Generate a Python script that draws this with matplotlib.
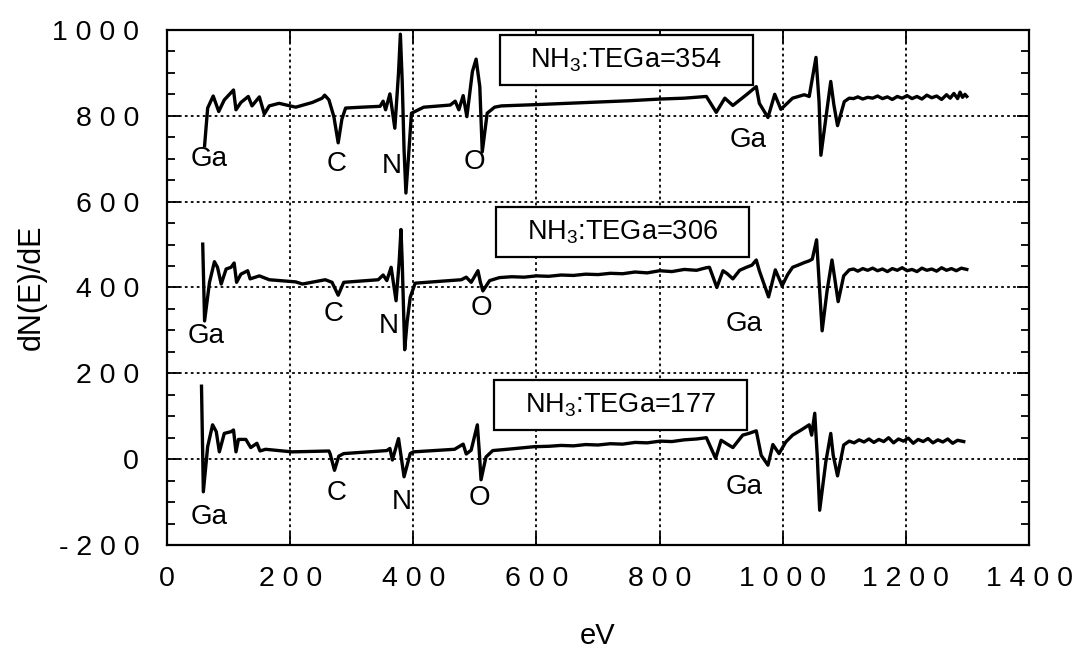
import matplotlib
matplotlib.use("Agg")
import matplotlib.pyplot as plt
from matplotlib.patches import Rectangle
from matplotlib.ticker import MultipleLocator, FuncFormatter

# AES spectra dN(E)/dE (eV, counts)
ev_354 = [61, 66, 75, 84, 93, 108, 112, 120, 132, 138, 150, 158, 166, 182, 209, 236,
          252, 256, 263, 271, 278, 284, 290, 316, 346, 351, 355, 362, 370, 376, 379,
          382, 385, 388, 392, 397, 417, 460, 468, 474, 481, 487, 496, 502, 508, 512,
          520, 532, 543, 600, 650, 700, 750, 801, 840, 876, 892, 906, 919, 941, 957,
          962, 976, 987, 997, 1016, 1035, 1043, 1054, 1059, 1062, 1070, 1078, 1083,
          1089, 1100, 1108, 1115, 1122, 1130, 1138, 1146, 1154, 1162, 1170, 1178,
          1186, 1194, 1202, 1210, 1218, 1226, 1234, 1242, 1250, 1258, 1266, 1272,
          1278, 1284, 1288, 1292, 1296, 1299]
dn_354 = [730, 818, 846, 810, 837, 860, 814, 831, 845, 823, 844, 804, 823, 829, 820, 831,
          841, 848, 837, 798, 737, 792, 818, 820, 822, 834, 814, 851, 771, 900, 990,
          880, 720, 620, 700, 806, 820, 825, 834, 814, 847, 798, 903, 932, 868, 716,
          806, 820, 823, 826, 829, 832, 835, 839, 841, 845, 808, 841, 824, 849, 868,
          829, 796, 850, 815, 841, 849, 845, 936, 833, 708, 794, 880, 826,
          777, 833, 841, 840, 844, 839, 843, 841, 846, 840, 844, 838,
          845, 841, 847, 840, 845, 839, 848, 842, 846, 838, 849, 841,
          852, 840, 855, 843, 850, 845]

ev_306 = [58, 61, 69, 77, 82, 88, 96, 104, 109, 113, 120, 131, 135, 150, 166, 209, 220,
          257, 268, 278, 287, 343, 351, 357, 364, 372, 377, 380, 382, 386, 390, 395,
          403, 440, 478, 486, 494, 505, 509, 513, 524, 540, 560, 580, 600, 620, 640,
          660, 680, 700, 720, 740, 760, 780, 800, 820, 840, 860, 876, 881, 893, 903,
          910, 919, 930, 941, 950, 957, 962, 977, 988, 999, 1008, 1016, 1025, 1035,
          1043, 1048, 1055, 1059, 1064, 1072, 1080, 1085, 1090, 1099, 1108, 1115,
          1122, 1130, 1138, 1146, 1154, 1162, 1170, 1178, 1186, 1194, 1202, 1210,
          1218, 1226, 1234, 1242, 1250, 1258, 1266, 1274, 1282, 1290, 1299]
dn_306 = [501, 322, 412, 460, 447, 408, 443, 447, 457, 412, 431, 439, 420, 427, 418, 413, 408,
          418, 412, 382, 412, 418, 429, 416, 447, 369, 459, 535, 459, 255, 320, 377,
          410, 414, 418, 424, 412, 439, 412, 392, 416, 423, 425, 424, 427, 426, 429,
          428, 431, 430, 433, 432, 436, 434, 439, 437, 442, 440, 446, 447, 400, 439,
          432, 420, 440, 447, 452, 464, 439, 378, 441, 404, 430, 447, 452, 458,
          462, 466, 511, 416, 299, 392, 464, 416, 367, 427, 441, 443,
          438, 444, 440, 445, 439, 443, 437, 444, 440, 446, 439, 442,
          437, 445, 440, 443, 438, 446, 440, 444, 439, 445, 442]

ev_177 = [56, 59, 66, 74, 80, 85, 93, 104, 108, 112, 116, 128, 136, 146, 151, 160, 203,
          263, 265, 272, 279, 287, 357, 362, 366, 376, 385, 395, 400, 467, 481, 486,
          494, 504, 507, 510, 518, 529, 560, 596, 620, 640, 660, 680, 700, 720, 740,
          760, 780, 801, 820, 840, 860, 876, 891, 900, 910, 919, 935, 945, 957, 965,
          976, 984, 994, 1005, 1016, 1030, 1043, 1047, 1052, 1056, 1060, 1070, 1078,
          1082, 1089, 1099, 1108, 1116, 1124, 1132, 1140, 1148, 1156, 1164, 1172,
          1180, 1188, 1196, 1204, 1212, 1220, 1228, 1236, 1244, 1252, 1260, 1268,
          1276, 1284, 1294]
dn_177 = [170, -76, 29, 80, 64, 17, 60, 64, 68, 17, 46, 46, 27, 37, 19, 23, 17,
          19, 12, -26, 7, 13, 20, 25, -2, 48, -41, 13, 17, 23, 35, 12,
          21, 80, 21, -48, 5, 20, 24, 29, 30, 32, 31, 34, 33, 36, 35,
          39, 38, 42, 41, 45, 47, 50, 2, 44, 35, 27, 56, 60, 66, 9,
          -14, 34, 13, 40, 56, 68, 80, 56, 107, 9, -119, -6, 60,
          9, -39, 33, 42, 38, 45, 40, 47, 39, 46, 41, 50,
          38, 47, 42, 49, 37, 46, 41, 48, 38, 45, 40, 47,
          37, 44, 41]

series = [(ev_354, dn_354), (ev_306, dn_306), (ev_177, dn_177)]

ratios = ["354", "306", "177"]
# box lower-left corners (eV, counts) and size
box_xy = [(540, 871), (534, 471), (531, 67)]
box_w, box_h = 411, 117

# element labels: (text, eV, counts)
peak_labels = [
    ("Ga", 69, 700), ("C", 276, 688), ("N", 365, 684), ("O", 499, 693), ("Ga", 943, 743),
    ("Ga", 63, 287), ("C", 271, 338), ("N", 360, 310), ("O", 510, 352), ("Ga", 938, 315),
    ("Ga", 69, -135), ("C", 276, -78), ("N", 381, -99), ("O", 507, -90), ("Ga", 938, -64),
]

plt.rcParams["font.family"] = ["Liberation Sans", "DejaVu Sans"]
plt.rcParams["mathtext.default"] = "regular"

fig = plt.figure(figsize=(10.72, 6.52), dpi=100)
ax = fig.add_axes([0.1558, 0.1641, 0.8041, 0.790])

for ev, dn in series:
    ax.plot(ev, dn, color="black", lw=2.4, solid_joinstyle="round")

for r, (bx, by) in zip(ratios, box_xy):
    ax.add_patch(Rectangle((bx, by), box_w, box_h, facecolor="white",
                           edgecolor="black", lw=1.6, zorder=4))
    ax.text(bx + box_w / 2, by + box_h / 2, "NH$_3$:TEGa=" + r, fontsize=19.5,
            ha="center", va="center", zorder=5)

for txt, x, y in peak_labels:
    ax.text(x, y, txt, fontsize=20, ha="center", va="center")

ax.set_xlim(0, 1400)
ax.set_ylim(-200, 1000)
ax.xaxis.set_major_locator(MultipleLocator(200))
ax.yaxis.set_major_locator(MultipleLocator(200))
ax.yaxis.set_minor_locator(MultipleLocator(50))

spaced = FuncFormatter(lambda v, p: " ".join(str(int(round(v)))))
ax.xaxis.set_major_formatter(spaced)
ax.yaxis.set_major_formatter(spaced)

ax.tick_params(which="both", direction="in", top=True, right=True, width=1.3)
ax.tick_params(which="major", length=9, labelsize=20.5)
ax.tick_params(which="minor", length=6)
ax.tick_params(axis="y", pad=20)
ax.tick_params(axis="x", pad=15)
for s in ax.spines.values():
    s.set_linewidth(1.6)

ax.grid(True, which="major", color="black", lw=1.3, linestyle=(0, (1.5, 1.8)))

ax.set_xlabel("eV", fontsize=21)
ax.set_ylabel("dN(E)/dE", fontsize=22)
ax.xaxis.set_label_coords(0.5, -0.15)
ax.yaxis.set_label_coords(-0.14, 0.5)

fig.savefig("out.png", dpi=100)
